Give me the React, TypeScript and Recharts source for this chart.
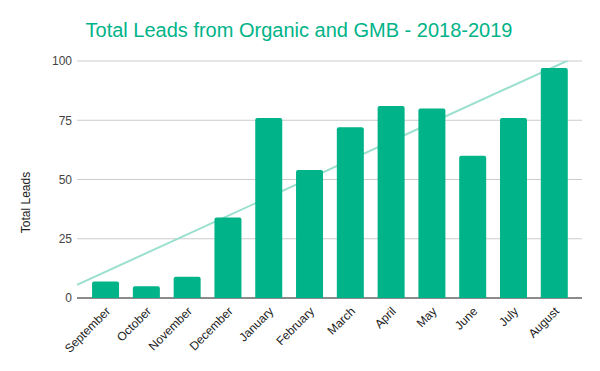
import { ComposedChart, Bar, Line, XAxis, YAxis, CartesianGrid, Label } from "recharts";

const months = [
  "September", "October", "November", "December", "January", "February",
  "March", "April", "May", "June", "July", "August",
];
const leads = [7, 5, 9, 34, 76, 54, 72, 81, 80, 60, 76, 97];
const yTicks = [0, 25, 50, 75, 100];

const data = months.map((m, i) => ({ idx: i, month: m, leads: leads[i] }));

// least squares trendline, like the original chart
const n = leads.length;
const meanX = (n - 1) / 2;
const meanY = leads.reduce((a, b) => a + b, 0) / n;
let sxy = 0;
let sxx = 0;
leads.forEach((v, i) => {
  sxy += (i - meanX) * (v - meanY);
  sxx += (i - meanX) * (i - meanX);
});
const slope = sxy / sxx;
const intercept = meanY - slope * meanX;
const xMin = -0.69;
const xMax = n - 1 + 0.69;
const trendData = [
  { idx: xMin, trend: intercept + slope * xMin },
  { idx: xMax, trend: intercept + slope * xMax },
];

const GREEN = "#00b388";
const FONT = "Arial, 'Liberation Sans', sans-serif";

const MonthTick = ({ x, y, payload }: any) => (
  <g transform={`translate(${x + 6},${y + 6})`}>
    <text
      transform="rotate(-45)"
      textAnchor="end"
      fontSize={12}
      fontFamily={FONT}
      fill="#222"
    >
      {months[payload.value]}
    </text>
  </g>
);

const AxisTitle = ({ viewBox }: any) => {
  const cx = viewBox.x + 26;
  const cy = viewBox.y + viewBox.height / 2 + 23;
  return (
    <text
      x={cx}
      y={cy}
      transform={`rotate(-90, ${cx}, ${cy})`}
      textAnchor="middle"
      dominantBaseline="central"
      fontSize={12}
      fontFamily={FONT}
      fill="#222"
    >
      Total Leads
    </text>
  );
};

export default function App() {
  return (
    <div style={{ position: "absolute", left: 0, top: 0, width: 600, height: 371, background: "#fff" }}>
      <div
        style={{
          position: "absolute",
          left: 0,
          top: 19,
          width: 598,
          textAlign: "center",
          fontFamily: FONT,
          fontSize: 20,
          color: GREEN,
        }}
      >
        Total Leads from Organic and GMB - 2018-2019
      </div>
      <ComposedChart
        width={600}
        height={371}
        data={data}
        margin={{ top: 61, right: 18, left: 0, bottom: 0 }}
      >
        <CartesianGrid vertical={false} stroke="#cccccc" />
        <XAxis
          dataKey="idx"
          type="number"
          domain={[xMin, xMax]}
          allowDataOverflow
          ticks={months.map((_, i) => i)}
          interval={0}
          height={73}
          tick={<MonthTick />}
          tickLine={false}
          axisLine={{ stroke: "#333" }}
        />
        <YAxis
          width={77}
          domain={[0, 100]}
          allowDataOverflow
          ticks={yTicks}
          tickLine={false}
          axisLine={false}
          tickSize={3}
          tick={{ fill: "#444", fontSize: 12, fontFamily: FONT }}
        >
          <Label content={<AxisTitle />} />
        </YAxis>
        <Line
          data={trendData}
          dataKey="trend"
          stroke="#9be0cf"
          strokeWidth={2}
          dot={false}
          activeDot={false}
          isAnimationActive={false}
          zIndex={100}
        />
        <Bar
          dataKey="leads"
          fill={GREEN}
          barSize={27}
          radius={[2, 2, 0, 0]}
          isAnimationActive={false}
          zIndex={500}
        />
      </ComposedChart>
    </div>
  );
}
